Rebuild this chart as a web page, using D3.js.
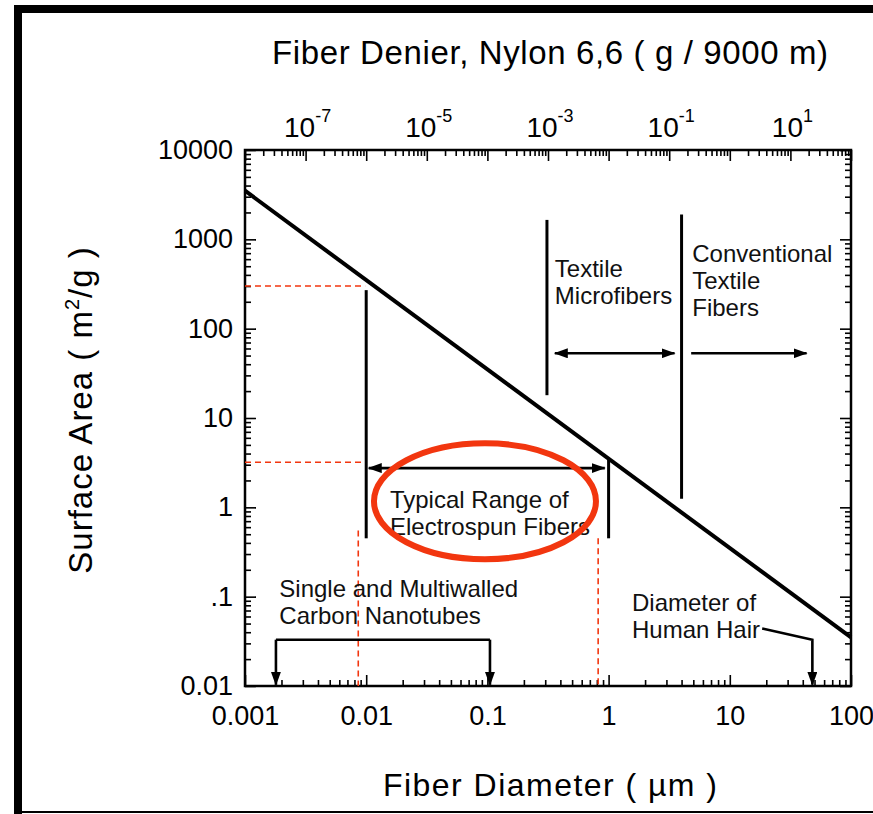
<!DOCTYPE html>
<html>
<head>
<meta charset="utf-8">
<script src="https://cdn.jsdelivr.net/npm/d3@7"></script>
<style>
  body { margin: 0; background: #fff; }
  svg { display: block; font-family: "Liberation Sans", Arial, sans-serif; }
</style>
</head>
<body>
<div id="chart-area"></div>
<script>
// surface area line (nylon, SA ~ 3.5 / d)
var diameter = [0.001, 100];
var surfaceArea = [3500, 0.035];

// axis ticks
var xTickVals = [0.001, 0.01, 0.1, 1, 10, 100];
var xTickLabels = ["0.001", "0.01", "0.1", "1", "10", "100"];
var yTickVals = [0.01, 0.1, 1, 10, 100, 1000, 10000];
var yTickLabels = ["0.01", ".1", "1", "10", "100", "1000", "10000"];
var topTickVals = [1e-7, 1e-5, 1e-3, 1e-1, 1e1];
var topTickExps = ["-7", "-5", "-3", "-1", "1"];

// annotation ranges (diameter in um, surface area in m2/g)
var electrospunRange = [0.01, 1];
var microfiberRange = [0.31, 4];
var nanotubeRange = [0.0018, 0.105];
var hairDiameter = 48;

var width = 873, height = 814;
var plot = { left: 245, right: 851, top: 150, bottom: 686 };

var svg = d3.select("#chart-area").append("svg")
    .attr("width", width)
    .attr("height", height);

var defs = svg.append("defs");
defs.append("marker")
    .attr("id", "arrow")
    .attr("viewBox", "0 0 14 10")
    .attr("refX", 13).attr("refY", 5)
    .attr("markerWidth", 14).attr("markerHeight", 10)
    .attr("markerUnits", "userSpaceOnUse")
    .attr("orient", "auto-start-reverse")
  .append("path")
    .attr("d", "M0,0 L14,5 L0,10 z")
    .attr("fill", "#000");

// page border
svg.append("rect").attr("x", 14).attr("y", 5).attr("width", 8).attr("height", height).attr("fill", "#000");
svg.append("rect").attr("x", 14).attr("y", 5).attr("width", width).attr("height", 8).attr("fill", "#000");
svg.append("rect").attr("x", 14).attr("y", 811).attr("width", width).attr("height", 2).attr("fill", "#000");

var x = d3.scaleLog()
    .domain([0.001, 100])
    .range([plot.left, plot.right]);

var y = d3.scaleLog()
    .domain([0.01, 10000])
    .range([plot.bottom, plot.top]);

var xTop = d3.scaleLog()
    .domain([1e-8, 1e2])
    .range([plot.left, plot.right]);

var minorX = x.ticks().filter(function(d) { return xTickVals.indexOf(d) < 0; });
var minorY = y.ticks().filter(function(d) { return yTickVals.indexOf(d) < 0; });
var majorTop = d3.range(-8, 3).map(function(e) { return Math.pow(10, e); });
var minorTop = xTop.ticks(20).filter(function(d) {
    return Math.abs(Math.log10(d) - Math.round(Math.log10(d))) > 1e-6;
});

function styleAxis(sel) {
    sel.select(".domain").remove();
    sel.selectAll("line").attr("stroke", "#000").attr("stroke-width", 1.6);
    sel.selectAll("text").attr("fill", "#000");
}

// bottom axis
svg.append("g")
    .attr("transform", "translate(0," + plot.bottom + ")")
    .call(d3.axisBottom(x).tickValues(xTickVals).tickSize(-11).tickPadding(20)
        .tickFormat(function(d, i) { return xTickLabels[i]; }))
    .call(styleAxis)
    .selectAll("text").attr("font-size", "27px");
svg.append("g")
    .attr("transform", "translate(0," + plot.bottom + ")")
    .call(d3.axisBottom(x).tickValues(minorX).tickSize(-6).tickFormat(""))
    .call(styleAxis);

// top axis (denier)
svg.append("g")
    .attr("transform", "translate(0," + plot.top + ")")
    .call(d3.axisTop(xTop).tickValues(majorTop).tickSize(-11).tickFormat(""))
    .call(styleAxis);
svg.append("g")
    .attr("transform", "translate(0," + plot.top + ")")
    .call(d3.axisTop(xTop).tickValues(minorTop).tickSize(-6).tickFormat(""))
    .call(styleAxis);

var topLabels = svg.append("g").selectAll("text")
    .data(topTickVals)
    .enter().append("text")
    .attr("x", function(d) { return xTop(d) + 2; })
    .attr("y", 137)
    .attr("text-anchor", "middle")
    .attr("font-size", "28px");
topLabels.append("tspan").text("10");
topLabels.append("tspan")
    .attr("dy", -15)
    .attr("font-size", "18px")
    .text(function(d, i) { return topTickExps[i]; });

// left axis
svg.append("g")
    .attr("transform", "translate(" + plot.left + ",0)")
    .call(d3.axisLeft(y).tickValues(yTickVals).tickSize(-11).tickPadding(12)
        .tickFormat(function(d, i) { return yTickLabels[i]; }))
    .call(styleAxis)
    .selectAll("text").attr("font-size", "27px");
svg.append("g")
    .attr("transform", "translate(" + plot.left + ",0)")
    .call(d3.axisLeft(y).tickValues(minorY).tickSize(-6).tickFormat(""))
    .call(styleAxis);

// right axis
svg.append("g")
    .attr("transform", "translate(" + plot.right + ",0)")
    .call(d3.axisRight(y).tickValues(yTickVals).tickSize(-11).tickFormat(""))
    .call(styleAxis);
svg.append("g")
    .attr("transform", "translate(" + plot.right + ",0)")
    .call(d3.axisRight(y).tickValues(minorY).tickSize(-6).tickFormat(""))
    .call(styleAxis);

// frame
svg.append("rect")
    .attr("x", plot.left).attr("y", plot.top)
    .attr("width", plot.right - plot.left).attr("height", plot.bottom - plot.top)
    .attr("fill", "none").attr("stroke", "#000").attr("stroke-width", 2.5);

// axis titles
svg.append("text")
    .attr("x", 550).attr("y", 64)
    .attr("text-anchor", "middle").attr("font-size", "33px")
    .attr("textLength", 556).attr("lengthAdjust", "spacing")
    .text("Fiber Denier, Nylon 6,6 ( g / 9000 m)");

svg.append("text")
    .attr("x", 550).attr("y", 796)
    .attr("text-anchor", "middle").attr("font-size", "32px")
    .attr("textLength", 334).attr("lengthAdjust", "spacing")
    .text("Fiber Diameter  ( \u00b5m )");

var yTitle = svg.append("text")
    .attr("transform", "translate(92,410) rotate(-90)")
    .attr("text-anchor", "middle").attr("font-size", "33px")
    .attr("letter-spacing", "1px");
yTitle.append("tspan").text("Surface Area  ( m");
yTitle.append("tspan").attr("dy", -13).attr("font-size", "20px").text("2");
yTitle.append("tspan").attr("dy", 13).text("/g )");

// red guide lines
var red = "#f2360f";
var dashed = [
    [[0.001, 300], [0.0098, 300]],
    [[0.001, 3.2], [0.0098, 3.2]],
    [[0.0086, 0.55], [0.0086, 0.01]],
    [[0.82, 0.45], [0.82, 0.01]]
];
var line = d3.line().x(function(d) { return x(d[0]); }).y(function(d) { return y(d[1]); });

svg.append("g").selectAll("path")
    .data(dashed)
    .enter().append("path")
    .attr("d", line)
    .attr("fill", "none")
    .attr("stroke", red)
    .attr("stroke-width", 1.6)
    .attr("stroke-dasharray", "6,4");

// main curve
svg.append("path")
    .datum(diameter.map(function(d, i) { return [d, surfaceArea[i]]; }))
    .attr("d", line)
    .attr("fill", "none")
    .attr("stroke", "#000")
    .attr("stroke-width", 4);

// vertical separators
var separators = [
    [[electrospunRange[0], 270], [electrospunRange[0], 0.45]],
    [[electrospunRange[1], 3.4], [electrospunRange[1], 0.45]],
    [[microfiberRange[0], 1650], [microfiberRange[0], 18]],
    [[microfiberRange[1], 1900], [microfiberRange[1], 1.25]]
];
svg.append("g").selectAll("path")
    .data(separators)
    .enter().append("path")
    .attr("d", line)
    .attr("stroke", "#000")
    .attr("stroke-width", 3);

// arrows
function arrow(pts, both) {
    var p = svg.append("path")
        .datum(pts)
        .attr("d", line)
        .attr("fill", "none")
        .attr("stroke", "#000")
        .attr("stroke-width", 2.6)
        .attr("marker-end", "url(#arrow)");
    if (both) p.attr("marker-start", "url(#arrow)");
}
arrow([[0.0105, 2.75], [0.93, 2.75]], true);
arrow([[0.36, 53], [3.5, 53]], true);
arrow([[4.8, 53], [43, 53]], false);
arrow([[nanotubeRange[0], 0.033], [nanotubeRange[0], 0.0103]], false);
arrow([[nanotubeRange[1], 0.033], [nanotubeRange[1], 0.0103]], false);
svg.append("path")
    .datum([[nanotubeRange[0], 0.033], [nanotubeRange[1], 0.033]])
    .attr("d", line).attr("stroke", "#000").attr("stroke-width", 2.6);
arrow([[18.5, 0.044], [hairDiameter, 0.033], [hairDiameter, 0.0103]], false);

// annotation text
var notes = [
    { lines: ["Textile", "Microfibers"], at: [0.36, 378] },
    { lines: ["Conventional", "Textile", "Fibers"], at: [4.9, 557] },
    { lines: ["Typical Range of", "Electrospun Fibers"], at: [0.0157, 0.98] },
    { lines: ["Single and Multiwalled", "Carbon Nanotubes"], at: [0.00192, 0.1] },
    { lines: ["Diameter of", "Human Hair"], at: [1.56, 0.07] }
];
notes.forEach(function(n) {
    var t = svg.append("text")
        .attr("x", x(n.at[0]))
        .attr("y", y(n.at[1]))
        .attr("font-size", "24px")
        .attr("fill", "#111");
    n.lines.forEach(function(s, i) {
        t.append("tspan").attr("x", x(n.at[0])).attr("dy", i === 0 ? 0 : 27).text(s);
    });
});

// highlight ellipse
svg.append("ellipse")
    .attr("cx", x(0.0955))
    .attr("cy", y(1.17))
    .attr("rx", 111)
    .attr("ry", 58)
    .attr("fill", "none")
    .attr("stroke", red)
    .attr("stroke-width", 6);
</script>
</body>
</html>
